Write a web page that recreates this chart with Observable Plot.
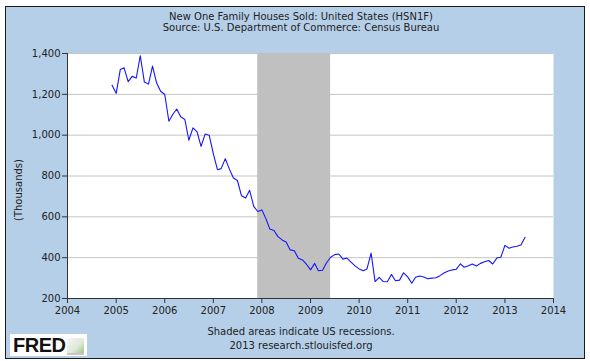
<!DOCTYPE html>
<html>
<head>
<meta charset="utf-8">
<script src="https://cdn.jsdelivr.net/npm/d3@7"></script>
<script src="https://cdn.jsdelivr.net/npm/@observablehq/plot@0.6"></script>
<style>
  html, body { margin: 0; padding: 0; background: #fff; }
  #wrap { position: relative; width: 590px; height: 361px; overflow: hidden; font-family: "DejaVu Sans", sans-serif; color: #222; }
  #panel { position: absolute; left: 5px; top: 6px; width: 578px; height: 351px; border: 1px solid #1a1a1a; background: #b5cfe8; }
  .txt { position: absolute; left: 0; width: 602px; text-align: center; font-size: 10px; line-height: 12px; white-space: nowrap; }
  #ylab { position: absolute; left: 18px; top: 190px; transform: translate(-50%, -50%) rotate(-90deg); font-size: 10px; white-space: nowrap; }
  #chart { position: absolute; left: 0; top: 0; }
  #logo { position: absolute; left: 10px; top: 334px; width: 77px; height: 22px; background: #fff; }
  #logo b { position: absolute; left: 3px; top: 1px; font-family: "Liberation Sans", Arial, sans-serif; font-size: 20px; line-height: 20px; font-weight: 900; color: #111; letter-spacing: -0.5px; }
  #logo span { position: absolute; left: 57px; top: 4px; width: 17px; height: 15px; background: linear-gradient(135deg, #f4f4f4 0%, #dfe8d8 60%, #9fc28a 100%); border-bottom: 2px solid #c8c8c8; }
</style>
</head>
<body>
<div id="wrap">
  <div id="panel"></div>
  <div class="txt" style="top:11px;">New One Family Houses Sold: United States (HSN1F)</div>
  <div class="txt" style="top:22px;">Source: U.S. Department of Commerce: Census Bureau</div>
  <div id="ylab">(Thousands)</div>
  <div id="chart"></div>
  <div class="txt" style="top:326px;">Shaded areas indicate US recessions.</div>
  <div class="txt" style="top:340px;">2013 research.stlouisfed.org</div>
  <div id="logo"><b>FRED</b><span></span></div>
</div>
<script>
// Monthly values (thousands, SAAR), first month December 2004
const firstMonth = "2004-12-01";
const sales = [
  1245,
  1205, 1322, 1330, 1262, 1288, 1280, 1389, 1260, 1250, 1338, 1255, 1215,
  1199, 1068, 1100, 1128, 1090, 1077, 975, 1036, 1016, 945, 1006, 1000,
  910, 831, 836, 885, 835, 790, 778, 703, 692, 730, 651, 626,
  634, 590, 540, 533, 503, 487, 477, 438, 434, 397, 389, 368,
  340, 372, 336, 338, 375, 402, 415, 418, 393, 398, 378, 360,
  345, 336, 345, 422, 283, 304, 283, 282, 318, 287, 290, 326,
  306, 275, 304, 310, 305, 297, 300, 302, 312, 325, 335, 340,
  343, 370, 353, 360, 369, 359, 372, 380, 386, 369, 398, 402,
  460, 446, 452, 456, 462, 500
];
const recessionStart = ["2007-12-01"];
const recessionEnd = ["2009-06-01"];
const yTicks = [200, 400, 600, 800, 1000, 1200, 1400];
const xTickYears = ["2004","2005","2006","2007","2008","2009","2010","2011","2012","2013","2014"];

const start = new Date(firstMonth + "T00:00:00Z");
const data = sales.map((v, i) => ({ date: d3.utcMonth.offset(start, i), value: v }));
const recessions = recessionStart.map((s, i) => ({ start: new Date(s + "T00:00:00Z"), end: new Date(recessionEnd[i] + "T00:00:00Z") }));
const xTicks = xTickYears.map(y => new Date(y + "-01-01T00:00:00Z"));
const xDomain = [xTicks[0], xTicks[xTicks.length - 1]];

const chart = Plot.plot({
  width: 590,
  height: 320,
  marginLeft: 67,
  marginRight: 37,
  marginTop: 53,
  marginBottom: 22,
  style: { background: "transparent", fontFamily: "DejaVu Sans, sans-serif", fontSize: "10px", color: "#222", overflow: "visible" },
  x: { type: "utc", domain: xDomain, label: null },
  y: { domain: [200, 1400], label: null },
  marks: [
    Plot.frame({ fill: "white", stroke: null }),
    Plot.gridY(yTicks.slice(1), { stroke: "#c4c4c4", strokeOpacity: 1, strokeWidth: 1 }),
    Plot.rect(recessions, { x1: "start", x2: "end", fill: "#c0c0c0" }),
    Plot.lineY(data, { x: "date", y: "value", stroke: "#1414ff", strokeWidth: 1.1 }),
    Plot.ruleX(xDomain.slice(0, 1), { stroke: "#333", strokeWidth: 1 }),
    Plot.ruleY(yTicks.slice(0, 1), { stroke: "#333", strokeWidth: 1 }),
    Plot.axisY(yTicks, { tickSize: 5, tickPadding: 2, tickFormat: d3.format(","), stroke: "#333", fill: "#222", label: null }),
    Plot.axisX(xTicks, { tickSize: 5, tickPadding: 3, tickFormat: d3.utcFormat("%Y"), stroke: "#333", fill: "#222", label: null })
  ]
});
document.getElementById("chart").appendChild(chart);
</script>
</body>
</html>
